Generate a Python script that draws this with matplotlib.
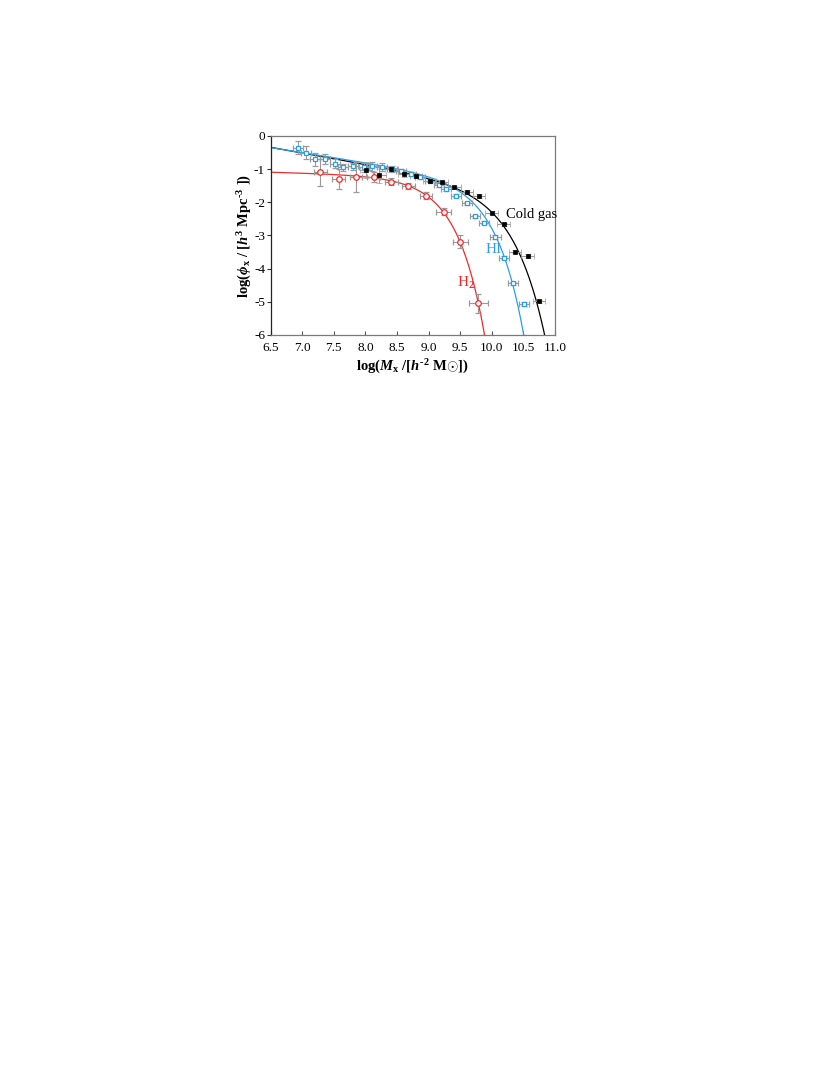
import numpy as np
import matplotlib
matplotlib.use("Agg")
import matplotlib.pyplot as plt

plt.rcParams['font.family'] = ['Liberation Serif', 'DejaVu Serif']
plt.rcParams['mathtext.fontset'] = 'custom'
plt.rcParams['mathtext.rm'] = 'Liberation Serif:bold'
plt.rcParams['mathtext.it'] = 'Liberation Serif:bold:italic'
plt.rcParams['mathtext.bf'] = 'Liberation Serif:bold'

# ---------------- data ----------------
# HI (blue open squares)
hi_x = [6.94, 7.06, 7.21, 7.36, 7.52, 7.65, 7.81, 7.98, 8.11, 8.27, 8.42, 8.57,
        8.72, 8.87, 9.02, 9.16, 9.28, 9.44, 9.61, 9.74, 9.88, 10.06, 10.19, 10.34, 10.51]
hi_y = [-0.35, -0.50, -0.70, -0.68, -0.83, -0.95, -0.92, -0.95, -0.92, -0.93, -1.00, -1.07,
        -1.15, -1.25, -1.35, -1.48, -1.60, -1.80, -2.03, -2.42, -2.61, -3.05, -3.67, -4.44, -5.07]
hi_yerr = [0.2, 0.2, 0.2, 0.15, 0.15, 0.12, 0.12, 0.15, 0.15, 0.12, 0.08, 0.06,
           0.06, 0.05, 0.05, 0.05, 0.05, 0.05, 0.05, 0.05, 0.05, 0.05, 0.05, 0.05, 0.05]
hi_xerr = [0.08] * len(hi_x)

# H2 (red open circles)
h2_x = [7.29, 7.58, 7.85, 8.13, 8.41, 8.68, 8.96, 9.24, 9.50, 9.79]
h2_y = [-1.10, -1.30, -1.24, -1.23, -1.38, -1.51, -1.80, -2.28, -3.19, -5.05]
h2_yerr = [0.4, 0.3, 0.45, 0.15, 0.1, 0.1, 0.1, 0.1, 0.2, 0.3]
h2_xerr = [0.1, 0.1, 0.1, 0.1, 0.1, 0.1, 0.1, 0.12, 0.12, 0.15]

# Cold gas (black filled squares)
cg_x = [8.01, 8.22, 8.41, 8.61, 8.80, 9.02, 9.21, 9.41, 9.61, 9.80, 10.00, 10.19,
        10.37, 10.57, 10.75]
cg_y = [-1.03, -1.17, -1.00, -1.15, -1.22, -1.35, -1.40, -1.55, -1.69, -1.81, -2.31, -2.66,
        -3.49, -3.62, -4.99]
cg_yerr = [0.25, 0.25, 0.1, 0.08, 0.06, 0.05, 0.05, 0.05, 0.05, 0.05, 0.05, 0.05,
           0.05, 0.05, 0.05]
cg_xerr = [0.1] * len(cg_x)

# Schechter-type fit parameters: [normalisation A, log M*, slope (alpha+1), beta]
fit_hi = [-1.249, 9.497, -0.30, 1.0]
fit_h2 = [-1.219, 8.85, -0.055, 1.0]
fit_cg = [-1.435, 9.72, -0.34, 0.88]

xticks = [6.5, 7.0, 7.5, 8.0, 8.5, 9.0, 9.5, 10.0, 10.5, 11.0]
yticks = [0, -1, -2, -3, -4, -5, -6]

BLUE = '#2a9fe8'
RED = '#ee2b2b'
GREY = '#9a9a9a'


def curve(p, x):
    A, xs, s, b = p
    return A + s * (x - xs) - np.log10(np.e) * 10 ** (b * (x - xs))


fig = plt.figure(figsize=(8.30, 10.75), dpi=100)
ax = fig.add_axes([0.326, 0.6884, 0.3425, 0.1851])

xx = np.linspace(6.5, 11.0, 2000)
ax.plot(xx, curve(fit_cg, xx), color='black', lw=0.9, zorder=2)
ax.plot(xx, curve(fit_hi, xx), color=BLUE, lw=0.9, zorder=2)
ax.plot(xx, curve(fit_h2, xx), color=RED, lw=0.9, zorder=2)

ekw = dict(ecolor=GREY, elinewidth=0.8, capsize=2.2, capthick=0.8, ls='none', zorder=3)
ax.errorbar(h2_x, h2_y, yerr=h2_yerr, xerr=h2_xerr, fmt='o', ms=4, mfc='white',
            mec=RED, mew=0.9, **ekw)
ax.errorbar(hi_x, hi_y, yerr=hi_yerr, xerr=hi_xerr, fmt='s', ms=3.0, mfc='white',
            mec=BLUE, mew=0.9, **ekw)
ax.errorbar(cg_x, cg_y, yerr=cg_yerr, xerr=cg_xerr, fmt='s', ms=3.2, mfc='black',
            mec='black', mew=0.5, **ekw)

ax.text(10.22, -2.38, 'Cold gas', color='black', fontsize=10.5, va='center', ha='left')
ax.text(9.91, -3.43, 'HI', color=BLUE, fontsize=11, va='center', ha='left')
ax.text(9.45, -4.43, r'H$_2$', color=RED, fontsize=11, va='center', ha='left')

ax.set_xlim(6.5, 11.0)
ax.set_ylim(-6, 0)
ax.set_xticks(xticks)
ax.set_xticklabels([f'{t:.1f}' for t in xticks])
ax.set_yticks(yticks)
ax.set_yticklabels([str(t) for t in yticks])
ax.tick_params(axis='x', direction='in', length=3, width=0.8, color='#555555',
               labelsize=9.5, pad=5)
ax.tick_params(axis='y', direction='out', length=3, width=0.8, color='#333333',
               labelsize=9.5, pad=1)

for side in ['top', 'right', 'bottom']:
    ax.spines[side].set_color('#7a7a7a')
    ax.spines[side].set_linewidth(0.9)
ax.spines['left'].set_color('#222222')
ax.spines['left'].set_linewidth(0.9)

ax.set_xlabel(r'log($M_{\rm x}$ /[$h^{\text{-}2}$ M$\odot$])', fontsize=10.5,
              fontweight='bold', labelpad=3)
ax.set_ylabel(r'log($\phi_{\rm x}$ / [$h^{3}$ Mpc$^{\text{-}3}$ ])', fontsize=10.5,
              fontweight='bold', labelpad=0)

fig.savefig('out.png', dpi=100)
